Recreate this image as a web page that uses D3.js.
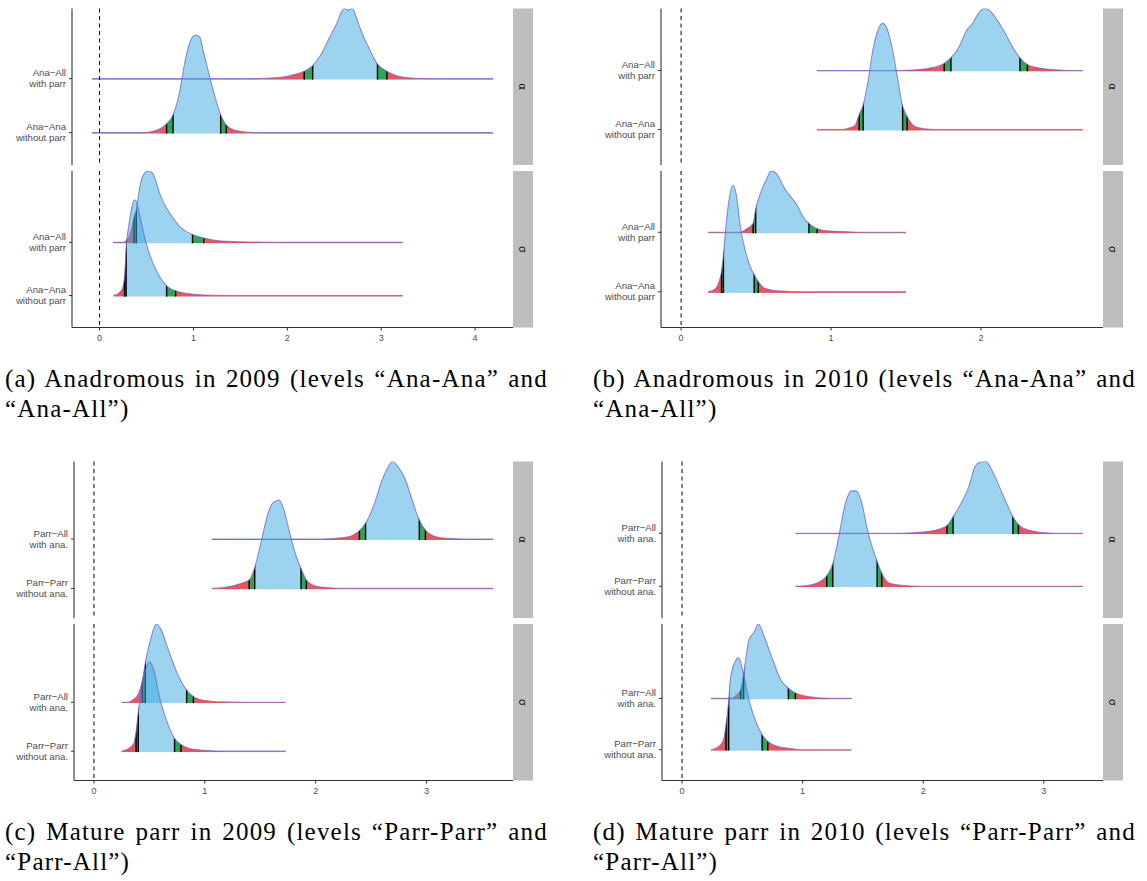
<!DOCTYPE html>
<html><head><meta charset="utf-8">
<script src="https://cdn.jsdelivr.net/npm/d3@7"></script>
<style>body{margin:0;background:#fff}</style>
</head><body>
<svg id="chart" width="1147" height="881" xmlns="http://www.w3.org/2000/svg"></svg>
<script>
// ---------------- DATA ----------------
const facetNames = ["α", "σ"];
const labelsAna  = [["Ana−Ana", "without parr"], ["Ana−All", "with parr"]];
const labelsParr = [["Parr−Parr", "without ana."], ["Parr−All", "with ana."]];
const ticksA = [0, 1, 2, 3, 4];
const ticksB = [0, 1, 2];
const ticksC = [0, 1, 2, 3];
const ticksD = [0, 1, 2, 3];
const captionA = ["(a) Anadromous in 2009 (levels “Ana-Ana” and", "“Ana-All”)"];
const captionB = ["(b) Anadromous in 2010 (levels “Ana-Ana” and", "“Ana-All”)"];
const captionC = ["(c) Mature parr in 2009 (levels “Parr-Parr” and", "“Parr-All”)"];
const captionD = ["(d) Mature parr in 2010 (levels “Parr-Parr” and", "“Parr-All”)"];

// x extent of each ridge line (per panel & facet)
const rangeA_alpha = [-0.08, 4.19], rangeA_sigma = [0.144, 3.23];
const rangeB_alpha = [0.905, 2.68], rangeB_sigma = [0.18, 1.5];
const rangeC_alpha = [1.064, 3.60], rangeC_sigma = [0.25, 1.73];
const rangeD_alpha = [0.94, 3.325], rangeD_sigma = [0.24, 1.406];

// density curves: [x, height in ridge-level units]; "own" = level 1, "all" = level 2
const curveA_alpha_all = [[1.61,0],[1.91,0.02],[2.06,0.07],[2.18,0.137],[2.27,0.24],[2.37,0.48],[2.44,0.73],[2.52,1.0],[2.58,1.25],[2.61,1.30],[2.65,1.27],[2.69,1.30],[2.73,1.16],[2.78,0.91],[2.86,0.60],[2.96,0.27],[3.06,0.137],[3.16,0.056],[3.32,0.012],[3.51,0]];
const curveA_alpha_own = [[0.47,0],[0.60,0.04],[0.714,0.16],[0.783,0.33],[0.85,0.73],[0.90,1.23],[0.96,1.66],[1.00,1.79],[1.03,1.81],[1.07,1.76],[1.11,1.48],[1.19,0.92],[1.29,0.33],[1.35,0.14],[1.45,0.04],[1.61,0.006],[1.80,0]];
const curveA_sigma_all = [[0.25,0],[0.30,0.06],[0.335,0.22],[0.367,0.48],[0.392,0.62],[0.42,0.95],[0.45,1.2],[0.48,1.30],[0.52,1.34],[0.56,1.31],[0.60,1.15],[0.64,0.92],[0.695,0.70],[0.77,0.49],[0.87,0.27],[0.99,0.145],[1.11,0.08],[1.30,0.025],[1.61,0.006],[1.99,0]];
const curveA_sigma_own = [[0.144,0],[0.20,0.04],[0.24,0.12],[0.266,0.35],[0.283,0.9],[0.31,1.3],[0.34,1.62],[0.372,1.80],[0.39,1.77],[0.43,1.49],[0.486,1.05],[0.54,0.74],[0.62,0.42],[0.714,0.18],[0.81,0.09],[1.0,0.025],[1.23,0.006],[1.6,0]];

const curveB_alpha_all = [[1.445,0],[1.57,0.011],[1.67,0.045],[1.755,0.12],[1.80,0.216],[1.845,0.36],[1.91,0.70],[1.945,0.80],[1.98,0.955],[2.02,1.05],[2.045,1.04],[2.095,0.90],[2.16,0.64],[2.22,0.36],[2.26,0.216],[2.31,0.10],[2.38,0.045],[2.495,0.011],[2.595,0]];
const curveB_alpha_own = [[1.07,0],[1.13,0.034],[1.16,0.07],[1.1875,0.25],[1.215,0.42],[1.245,0.79],[1.28,1.36],[1.32,1.73],[1.345,1.80],[1.37,1.73],[1.41,1.36],[1.445,0.85],[1.4775,0.40],[1.5075,0.22],[1.56,0.05],[1.63,0.011],[1.70,0]];
const curveB_sigma_all = [[0.395,0],[0.43,0.045],[0.48,0.146],[0.4975,0.39],[0.53,0.66],[0.57,0.89],[0.60,1.03],[0.63,1.0],[0.695,0.72],[0.77,0.47],[0.83,0.2],[0.8525,0.15],[0.9075,0.06],[0.995,0.02],[1.145,0.006],[1.3,0]];
const curveB_sigma_own = [[0.18,0],[0.22,0.034],[0.25,0.146],[0.27,0.35],[0.2825,0.62],[0.295,0.99],[0.32,1.55],[0.345,1.79],[0.37,1.61],[0.395,1.10],[0.4325,0.65],[0.47,0.37],[0.4875,0.29],[0.515,0.17],[0.5575,0.06],[0.645,0.017],[0.82,0]];

const curveC_alpha_all = [[2.05,0],[2.21,0.02],[2.325,0.068],[2.395,0.17],[2.45,0.32],[2.52,0.655],[2.60,1.20],[2.646,1.43],[2.695,1.57],[2.74,1.47],[2.81,1.20],[2.87,0.79],[2.935,0.385],[2.99,0.18],[3.064,0.06],[3.18,0.014],[3.35,0]];
const curveC_alpha_own = [[1.064,0],[1.215,0.034],[1.31,0.088],[1.40,0.17],[1.45,0.42],[1.505,0.91],[1.57,1.52],[1.61,1.72],[1.67,1.79],[1.714,1.59],[1.76,1.18],[1.826,0.64],[1.868,0.405],[1.916,0.17],[1.99,0.054],[2.115,0.014],[2.3,0]];
const curveC_sigma_all = [[0.30,0],[0.35,0.048],[0.395,0.15],[0.437,0.45],[0.463,0.8],[0.51,1.28],[0.563,1.60],[0.605,1.49],[0.67,1.08],[0.75,0.60],[0.836,0.25],[0.897,0.116],[0.99,0.04],[1.15,0.007],[1.35,0]];
const curveC_sigma_own = [[0.25,0],[0.315,0.055],[0.36,0.16],[0.38,0.4],[0.40,0.8],[0.444,1.46],[0.50,1.82],[0.54,1.66],[0.59,1.12],[0.653,0.64],[0.727,0.26],[0.785,0.137],[0.86,0.055],[1.02,0.014],[1.2,0]];

const curveD_alpha_all = [[1.79,0],[1.97,0.019],[2.10,0.057],[2.198,0.146],[2.248,0.31],[2.317,0.576],[2.38,0.89],[2.426,1.24],[2.47,1.34],[2.52,1.355],[2.566,1.21],[2.63,0.89],[2.69,0.576],[2.744,0.31],[2.79,0.165],[2.86,0.07],[2.97,0.019],[3.1,0]];
const curveD_alpha_own = [[0.94,0],[1.04,0.013],[1.13,0.07],[1.20,0.196],[1.25,0.42],[1.30,0.94],[1.356,1.58],[1.406,1.80],[1.444,1.80],[1.49,1.58],[1.537,1.07],[1.618,0.47],[1.656,0.25],[1.72,0.057],[1.85,0.013],[1.95,0]];
const curveD_sigma_all = [[0.40,0],[0.446,0.05],[0.486,0.17],[0.511,0.49],[0.555,1.14],[0.60,1.30],[0.633,1.45],[0.68,1.21],[0.742,0.82],[0.82,0.36],[0.882,0.20],[0.94,0.104],[1.04,0.039],[1.163,0.006],[1.25,0]];
const curveD_sigma_own = [[0.24,0],[0.305,0.065],[0.345,0.2],[0.365,0.5],[0.387,0.95],[0.40,1.36],[0.44,1.72],[0.47,1.79],[0.508,1.49],[0.555,0.97],[0.617,0.52],[0.664,0.29],[0.711,0.16],[0.79,0.065],[0.914,0.019],[1.0,0]];

// quantile cut points (2.5%, 5%, 95%, 97.5%)
const qA_alpha_all = [2.18, 2.27, 2.96, 3.06],   qA_alpha_own = [0.714, 0.783, 1.29, 1.35];
const qA_sigma_all = [0.367, 0.392, 0.99, 1.11], qA_sigma_own = [0.266, 0.283, 0.714, 0.81];
const qB_alpha_all = [1.755, 1.80, 2.26, 2.31],  qB_alpha_own = [1.1875, 1.215, 1.4775, 1.5075];
const qB_sigma_all = [0.48, 0.4975, 0.8525, 0.9075], qB_sigma_own = [0.27, 0.2825, 0.4875, 0.515];
const qC_alpha_all = [2.395, 2.45, 2.935, 2.99], qC_alpha_own = [1.40, 1.45, 1.868, 1.916];
const qC_sigma_all = [0.437, 0.463, 0.836, 0.897], qC_sigma_own = [0.38, 0.40, 0.727, 0.785];
const qD_alpha_all = [2.198, 2.248, 2.744, 2.79], qD_alpha_own = [1.20, 1.25, 1.618, 1.656];
const qD_sigma_all = [0.486, 0.511, 0.882, 0.94], qD_sigma_own = [0.365, 0.387, 0.664, 0.711];

// ---------------- LAYOUT / STYLE ----------------
const COL = {red: "#EA5461", green: "#2DA656", blue: "#3AA8DE", line: "#6A5FD0", axis: "#333333", text: "#4D4D4D", strip: "#BEBEBE"};

const panels = [
  {id: "A", left: 72,  right: 513,  top: 8.5,   bottom: 327.5, labels: labelsAna,  ticks: ticksA, caption: captionA, capX: 5,   capY: 387,
   facets: [{range: rangeA_alpha, own: curveA_alpha_own, all: curveA_alpha_all, qOwn: qA_alpha_own, qAll: qA_alpha_all},
            {range: rangeA_sigma, own: curveA_sigma_own, all: curveA_sigma_all, qOwn: qA_sigma_own, qAll: qA_sigma_all}]},
  {id: "B", left: 661, right: 1103, top: 8.5,   bottom: 327.5, labels: labelsAna,  ticks: ticksB, caption: captionB, capX: 593, capY: 387,
   facets: [{range: rangeB_alpha, own: curveB_alpha_own, all: curveB_alpha_all, qOwn: qB_alpha_own, qAll: qB_alpha_all},
            {range: rangeB_sigma, own: curveB_sigma_own, all: curveB_sigma_all, qOwn: qB_sigma_own, qAll: qB_sigma_all}]},
  {id: "C", left: 74,  right: 513,  top: 461.5, bottom: 780.5, labels: labelsParr, ticks: ticksC, caption: captionC, capX: 5,   capY: 840,
   facets: [{range: rangeC_alpha, own: curveC_alpha_own, all: curveC_alpha_all, qOwn: qC_alpha_own, qAll: qC_alpha_all},
            {range: rangeC_sigma, own: curveC_sigma_own, all: curveC_sigma_all, qOwn: qC_sigma_own, qAll: qC_sigma_all}]},
  {id: "D", left: 662, right: 1103, top: 461.5, bottom: 780.5, labels: labelsParr, ticks: ticksD, caption: captionD, capX: 593, capY: 840,
   facets: [{range: rangeD_alpha, own: curveD_alpha_own, all: curveD_alpha_all, qOwn: qD_alpha_own, qAll: qD_alpha_all},
            {range: rangeD_sigma, own: curveD_sigma_own, all: curveD_sigma_all, qOwn: qD_sigma_own, qAll: qD_sigma_all}]}
];
const CAPTION_WIDTH = 543; // justified first caption line

const svg = d3.select("#chart");
const defs = svg.append("defs");
const GAP = 6, STRIP_W = 20;
let clipCount = 0;

panels.forEach(p => {
  const g = svg.append("g");
  const xs = [0];
  p.facets.forEach(f => xs.push(...f.range));
  const ext = d3.extent(xs), span = ext[1] - ext[0];
  const x = d3.scaleLinear().domain([ext[0] - 0.05 * span, ext[1] + 0.05 * span]).range([p.left, p.right]);
  const fh = (p.bottom - p.top - GAP) / 2;

  p.facets.forEach((f, fi) => {
    const fTop = p.top + fi * (fh + GAP), fBot = fTop + fh;
    const maxTop = Math.max(1 + d3.max(f.own, d => d[1]), 2 + d3.max(f.all, d => d[1]));
    const y = d3.scaleLinear().domain([0.4, maxTop]).range([fBot, fTop]);
    const fg = g.append("g");

    const pcId = "pc" + (clipCount++);
    defs.append("clipPath").attr("id", pcId).append("rect")
      .attr("x", p.left).attr("y", fTop).attr("width", p.right - p.left).attr("height", fh);
    const plot = fg.append("g").attr("clip-path", `url(#${pcId})`);

    const ridges = [{level: 2, curve: f.all, q: f.qAll}, {level: 1, curve: f.own, q: f.qOwn}];
    ridges.forEach(r => {
      const pts = [];
      if (r.curve[0][0] > f.range[0]) pts.push([f.range[0], 0]);
      pts.push(...r.curve);
      if (r.curve[r.curve.length - 1][0] < f.range[1]) pts.push([f.range[1], 0]);
      const base = y(r.level);
      const area = d3.area().curve(d3.curveMonotoneX)
        .x(d => x(d[0])).y0(base + 1.1).y1(d => y(r.level + d[1]));
      const line = d3.line().curve(d3.curveMonotoneX)
        .x(d => x(d[0])).y(d => y(r.level + d[1]));
      const cid = "rc" + (clipCount++);
      defs.append("clipPath").attr("id", cid).append("path").attr("d", area(pts));
      const rg = plot.append("g").attr("clip-path", `url(#${cid})`);
      const cuts = [f.range[0], ...r.q, f.range[1]];
      const fills = [[COL.red, 1], [COL.green, 1], [COL.blue, 0.5], [COL.green, 1], [COL.red, 1]];
      rg.selectAll("rect").data(d3.range(5)).join("rect")
        .attr("x", i => x(cuts[i])).attr("width", i => x(cuts[i + 1]) - x(cuts[i]))
        .attr("y", fTop - 2).attr("height", base + 1.1 - fTop + 2)
        .attr("fill", i => fills[i][0]).attr("fill-opacity", i => fills[i][1]);
      rg.selectAll("line").data(r.q).join("line")
        .attr("x1", d => x(d)).attr("x2", d => x(d))
        .attr("y1", base + 1.1).attr("y2", fTop - 2)
        .attr("stroke", "#000").attr("stroke-width", 1.4);
      plot.append("path").attr("d", line(pts)).attr("fill", "none")
        .attr("stroke", COL.line).attr("stroke-width", 1.1).attr("stroke-opacity", 0.7);
    });

    fg.append("line").attr("x1", x(0)).attr("x2", x(0)).attr("y1", fTop).attr("y2", fBot)
      .attr("stroke", "#000").attr("stroke-width", 1).attr("stroke-dasharray", "4,3.5");

    fg.append("line").attr("x1", p.left).attr("x2", p.left).attr("y1", fTop).attr("y2", fBot)
      .attr("stroke", COL.axis).attr("stroke-width", 1.1);
    [1, 2].forEach((lv, li) => {
      const yy = y(lv);
      fg.append("line").attr("x1", p.left - 3).attr("x2", p.left).attr("y1", yy).attr("y2", yy)
        .attr("stroke", COL.axis).attr("stroke-width", 1);
      const t = fg.append("text").attr("text-anchor", "end")
        .attr("font-family", "Liberation Sans, Arial, sans-serif").attr("font-size", 9.6)
        .attr("fill", COL.text);
      p.labels[li].forEach((s, k) => {
        t.append("tspan").attr("x", p.left - 6).attr("y", yy + (k === 0 ? -2.5 : 8.5)).text(s);
      });
    });

    fg.append("rect").attr("x", p.right).attr("y", fTop).attr("width", STRIP_W).attr("height", fh)
      .attr("fill", COL.strip);
    fg.append("text").attr("transform", `translate(${p.right + STRIP_W / 2},${fTop + fh / 2}) rotate(90)`)
      .attr("text-anchor", "middle").attr("dominant-baseline", "central")
      .attr("font-family", "DejaVu Sans, sans-serif").attr("font-size", 10.5).attr("fill", "#1A1A1A")
      .text(facetNames[fi]);
  });

  g.append("line").attr("x1", p.left).attr("x2", p.right).attr("y1", p.bottom).attr("y2", p.bottom)
    .attr("stroke", COL.axis).attr("stroke-width", 1.1);
  p.ticks.forEach(t => {
    g.append("line").attr("x1", x(t)).attr("x2", x(t)).attr("y1", p.bottom).attr("y2", p.bottom + 3)
      .attr("stroke", COL.axis).attr("stroke-width", 1);
    g.append("text").attr("x", x(t)).attr("y", p.bottom + 13).attr("text-anchor", "middle")
      .attr("font-family", "Liberation Sans, Arial, sans-serif").attr("font-size", 9).attr("fill", COL.text)
      .text(t);
  });

  p.caption.forEach((s, k) => {
    const t = svg.append("text").attr("x", p.capX).attr("y", p.capY + k * 30)
      .attr("font-family", "Liberation Serif, Times New Roman, serif").attr("font-size", 25)
      .attr("letter-spacing", 1.2).attr("fill", "#000").text(s);
    if (k === 0) {
      // justified line: stretch inter-word spaces to the column width
      const natural = t.node().getComputedTextLength();
      const nSpaces = (s.match(/ /g) || []).length;
      t.attr("word-spacing", Math.max(0, (CAPTION_WIDTH - natural) / nSpaces));
    }
  });
});
</script>
</body></html>
